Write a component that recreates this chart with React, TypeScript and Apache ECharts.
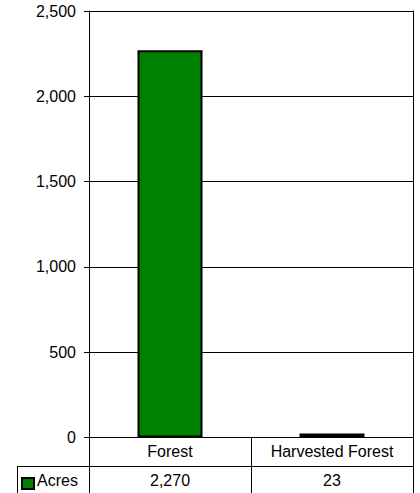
import React, { useEffect, useRef } from "react";
import * as echarts from "echarts";

const categories = ["Forest", "Harvested Forest"];
const acres = [2270, 23];
const seriesName = "Acres";
const yMin = 0;
const yMax = 2500;
const yInterval = 500;

const FONT = "'Liberation Sans', Arial, sans-serif";
const fmt = (v: number) => v.toLocaleString("en-US");

export default function App() {
  const ref = useRef<HTMLDivElement>(null);
  useEffect(() => {
    document.body.style.margin = "0";
    if (!ref.current) return;
    const chart = echarts.init(ref.current, undefined, { renderer: "svg" });
    chart.setOption({
      animation: false,
      backgroundColor: "#fff",
      textStyle: { fontFamily: FONT },
      grid: { left: 89, right: 7, top: 11, bottom: 55.5 },
      xAxis: [
        {
          type: "category",
          data: categories,
          position: "bottom",
          axisLine: { show: true, lineStyle: { color: "#000", width: 1 } },
          axisTick: { show: true, length: 55.5, alignWithLabel: false, lineStyle: { color: "#000" } },
          axisLabel: { fontSize: 16, color: "#000", margin: 6, lineHeight: 16, fontFamily: FONT },
        },
        {
          type: "category",
          data: categories,
          position: "bottom",
          offset: 28.5,
          axisLine: { show: false },
          axisTick: { show: false },
          axisLabel: {
            fontSize: 16,
            color: "#000",
            margin: 6,
            lineHeight: 16,
            fontFamily: FONT,
            formatter: (_v: string, i: number) => fmt(acres[i]),
          },
        },
      ],
      yAxis: [
        {
          type: "value",
          min: yMin,
          max: yMax,
          interval: yInterval,
          axisLine: { show: true, lineStyle: { color: "#000" } },
          axisTick: { show: true, length: 5, lineStyle: { color: "#000" } },
          splitLine: { show: true, lineStyle: { color: "#000", width: 1 } },
          axisLabel: { fontSize: 16, color: "#000", margin: 13, fontFamily: FONT, formatter: (v: number) => fmt(v) },
        },
        {
          type: "value",
          position: "right",
          min: yMin,
          max: yMax,
          interval: yInterval,
          axisLine: { show: true, lineStyle: { color: "#000" } },
          axisTick: { show: false },
          axisLabel: { show: false },
          splitLine: { show: false },
        },
      ],
      series: [
        {
          name: seriesName,
          type: "bar",
          xAxisIndex: 0,
          yAxisIndex: 0,
          data: acres,
          barWidth: 65,
          itemStyle: { color: "#008000", borderColor: "#000", borderWidth: 2 },
        },
      ],
      graphic: [
        { type: "line", shape: { x1: 17, y1: 466.5, x2: 413, y2: 466.5 }, style: { stroke: "#000", lineWidth: 1 } },
        { type: "line", shape: { x1: 17.5, y1: 466.5, x2: 17.5, y2: 493 }, style: { stroke: "#000", lineWidth: 1 } },
        { type: "rect", shape: { x: 22, y: 478, width: 12, height: 11 }, style: { fill: "#008000", stroke: "#000", lineWidth: 2 } },
        {
          type: "text",
          x: 37,
          y: 480,
          style: { text: seriesName, fontSize: 16, fill: "#000", fontFamily: FONT, verticalAlign: "middle", align: "left" },
        },
      ],
    });
    return () => chart.dispose();
  }, []);
  return <div ref={ref} style={{ width: 420, height: 493 }} />;
}
